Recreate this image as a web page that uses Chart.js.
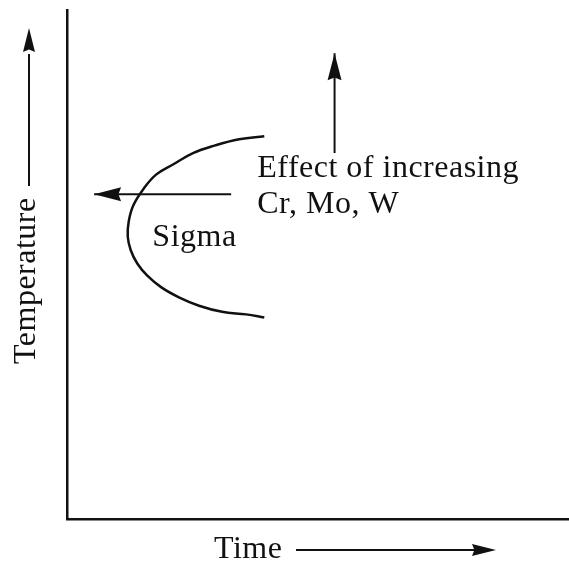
<!DOCTYPE html>
<html>
<head>
<meta charset="utf-8">
<script src="https://cdn.jsdelivr.net/npm/chart.js@4.4.0/dist/chart.umd.min.js"></script>
<style>
  html, body { margin: 0; padding: 0; background: #fff; }
</style>
</head>
<body>
<canvas id="chart" width="569" height="561"></canvas>
<script>
/* Sigma precipitation sketch - temperature vs time */

// sigma C-curve (axis units 0..100)
var sigmaX = [39.3, 34.3, 29.5, 25.1, 21.2, 17.8, 15.2, 13.2, 12.3, 12.1, 12.7, 14.0, 16.0, 18.8, 22.4, 26.3, 30.9, 35.7, 39.3];
var sigmaY = [75.2, 74.6, 73.4, 71.9, 69.7, 67.7, 64.8, 61.6, 58.5, 55.5, 52.8, 50.2, 47.8, 45.5, 43.5, 41.9, 40.7, 40.2, 39.6];

// arrows: [start, tip]
var leftArrowX = [32.7, 5.4];
var leftArrowY = [63.8, 63.8];
var upArrowX = [53.3, 53.3];
var upArrowY = [71.9, 91.5];

// annotation texts
var noteTexts = ["Effect of increasing", "Cr, Mo, W", "Sigma"];
var noteX = [37.9, 37.9, 17.0];
var noteY = [67.1, 60.2, 53.7];

var xTitle = "Time";
var yTitle = "Temperature";

var FONT = "32px 'Liberation Serif', 'Times New Roman', serif";
var INK = "#111";

function toPoints(xs, ys) {
    var out = [];
    for (var i = 0; i < xs.length; i++) {
        out.push({ x: xs[i], y: ys[i] });
    }
    return out;
}

function drawHead(ctx, tipX, tipY, fromX, fromY, len, half) {
    var ang = Math.atan2(tipY - fromY, tipX - fromX);
    ctx.save();
    ctx.translate(tipX, tipY);
    ctx.rotate(ang);
    ctx.beginPath();
    ctx.moveTo(0, 0);
    ctx.lineTo(-len, -half);
    ctx.lineTo(-len * 0.9, 0);
    ctx.lineTo(-len, half);
    ctx.closePath();
    ctx.fillStyle = INK;
    ctx.fill();
    ctx.restore();
}

// arrow heads + text, all placed through the scales
var sketchPlugin = {
    id: 'sketch',
    afterDatasetsDraw: function(chart) {
        var ctx = chart.ctx;
        var xs = chart.scales.x;
        var ys = chart.scales.y;
        var area = chart.chartArea;

        chart.data.datasets.forEach(function(ds) {
            if (!ds.arrow) return;
            var n = ds.data.length;
            var a = ds.data[n - 2], b = ds.data[n - 1];
            drawHead(ctx, xs.getPixelForValue(b.x), ys.getPixelForValue(b.y),
                xs.getPixelForValue(a.x), ys.getPixelForValue(a.y), 27, 7);
        });

        ctx.save();
        ctx.font = FONT;
        ctx.fillStyle = INK;
        ctx.letterSpacing = "0.5px";
        ctx.textAlign = 'left';
        ctx.textBaseline = 'alphabetic';
        for (var i = 0; i < noteTexts.length; i++) {
            ctx.fillText(noteTexts[i], xs.getPixelForValue(noteX[i]), ys.getPixelForValue(noteY[i]));
        }

        // x title with arrow
        var tx = area.left + 147;
        var ty = area.bottom + 39;
        ctx.fillText(xTitle, tx, ty);
        ctx.strokeStyle = INK;
        ctx.lineWidth = 2;
        ctx.beginPath();
        ctx.moveTo(area.left + 229, ty - 8);
        ctx.lineTo(area.left + 410, ty - 8);
        ctx.stroke();
        drawHead(ctx, area.left + 429, ty - 8, area.left + 229, ty - 8, 24, 6);

        // y title with arrow (rotated)
        ctx.save();
        ctx.translate(area.left - 32, area.bottom - 155);
        ctx.rotate(-Math.PI / 2);
        ctx.fillText(yTitle, 0, 0);
        ctx.beginPath();
        ctx.moveTo(178, -6);
        ctx.lineTo(310, -6);
        ctx.stroke();
        drawHead(ctx, 336, -6, 178, -6, 24, 6);
        ctx.restore();

        ctx.restore();
    }
};

var ctx = document.getElementById('chart').getContext('2d');
var myChart = new Chart(ctx, {
    type: 'scatter',
    data: {
        datasets: [{
            label: 'Sigma',
            data: toPoints(sigmaX, sigmaY),
            showLine: true,
            borderColor: INK,
            borderWidth: 2.5,
            pointRadius: 0,
            tension: 0.4,
            fill: false
        }, {
            label: 'shift left',
            data: toPoints(leftArrowX, leftArrowY),
            showLine: true,
            borderColor: INK,
            borderWidth: 2,
            pointRadius: 0,
            arrow: true
        }, {
            label: 'shift up',
            data: toPoints(upArrowX, upArrowY),
            showLine: true,
            borderColor: INK,
            borderWidth: 2,
            pointRadius: 0,
            arrow: true
        }]
    },
    options: {
        responsive: false,
        animation: false,
        layout: {
            padding: { left: 67, top: 10, right: 0, bottom: 42 }
        },
        plugins: {
            legend: { display: false },
            tooltip: { enabled: false }
        },
        scales: {
            x: {
                type: 'linear',
                min: 0,
                max: 100,
                ticks: { display: false },
                grid: { display: false, drawTicks: false },
                border: { display: true, color: INK, width: 2.5 }
            },
            y: {
                type: 'linear',
                min: 0,
                max: 100,
                ticks: { display: false },
                grid: { display: false, drawTicks: false },
                border: { display: true, color: INK, width: 2.5 }
            }
        }
    },
    plugins: [sketchPlugin]
});
</script>
</body>
</html>
